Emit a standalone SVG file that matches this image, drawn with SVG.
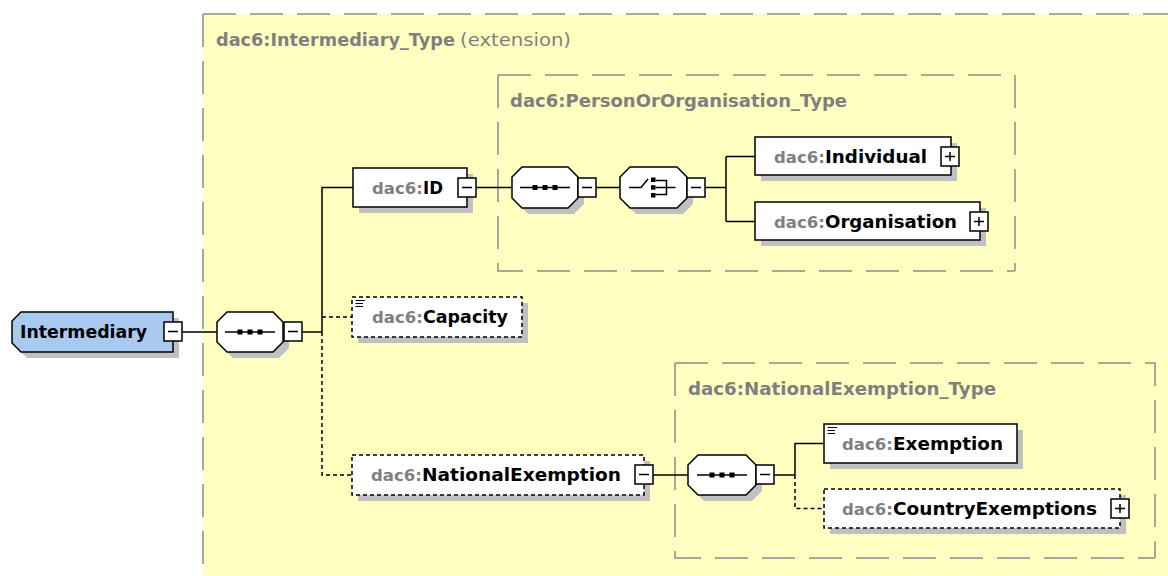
<svg xmlns="http://www.w3.org/2000/svg" xmlns:xlink="http://www.w3.org/1999/xlink" width="1168" height="576" viewBox="0 0 1168 576">
<style>
.ln{stroke:#000;stroke-width:1.5;fill:none}
.dl{stroke:#000;stroke-width:1.5;fill:none;stroke-dasharray:4 3}
.box{fill:#fff;stroke:#000;stroke-width:1.5}
.obox{fill:#fff;stroke:#000;stroke-width:1.5;stroke-dasharray:4 3}
.sh{fill:#c0c0c0}
.ctr{fill:none;stroke:#8c8c8c;stroke-width:1.5;stroke-dasharray:33 14}
.t{font-family:"DejaVu Sans",sans-serif;font-weight:bold;font-size:17.5px}
.p{fill:#808080;font-size:16.5px}
.n{fill:#000}
.tt{font-family:"DejaVu Sans",sans-serif;font-size:17.5px;fill:#7f7f7f}
.doc{stroke:#000;stroke-width:1.2}
</style>
<defs>
<g id="minus"><rect x="0" y="0" width="18" height="19" fill="#fff" stroke="#000" stroke-width="1.5"/><path d="M4 9.5H14" stroke="#000" stroke-width="1.5"/></g>
<g id="plus"><rect x="0" y="0" width="18" height="19" fill="#fff" stroke="#000" stroke-width="1.5"/><path d="M4 9.5H14M9 5V14" stroke="#000" stroke-width="1.5"/></g>
<g id="seqsym"><path d="M-25 0H25" stroke="#000" stroke-width="1.5"/><rect x="-12.5" y="-2.5" width="5" height="5"/><rect x="-2.5" y="-2.5" width="5" height="5"/><rect x="7.5" y="-2.5" width="5" height="5"/></g>
<g id="chsym"><path d="M-24.5 0H-12.5L-5.5 -8.5" fill="none" stroke="#000" stroke-width="1.5"/><rect x="-2.5" y="-10" width="4.5" height="4.5"/><rect x="-2.5" y="-2.25" width="4.5" height="4.5"/><rect x="-2.5" y="5.5" width="4.5" height="4.5"/><path d="M2 -7H13V7H2M2 0H22" fill="none" stroke="#000" stroke-width="1.5"/></g>
</defs>

<g id="containers">
<rect x="203" y="14" width="965" height="562" fill="#ffffc0"/>
<path class="ctr" d="M203 14H1168"/><path class="ctr" d="M203 14V576"/>
<text class="tt" x="216" y="46" font-weight="bold" textLength="239" lengthAdjust="spacingAndGlyphs">dac6:Intermediary_Type</text>
<text class="tt" x="460" y="46" textLength="111" lengthAdjust="spacingAndGlyphs">(extension)</text>
<path class="ctr" d="M498 75H1015V271"/><path class="ctr" d="M498 75V271H1015"/>
<text class="tt" x="510" y="107" font-weight="bold" textLength="337" lengthAdjust="spacingAndGlyphs">dac6:PersonOrOrganisation_Type</text>
<path class="ctr" d="M675 363H1155V558"/><path class="ctr" d="M675 363V558H1155"/>
<text class="tt" x="688" y="395" font-weight="bold" textLength="308" lengthAdjust="spacingAndGlyphs">dac6:NationalExemption_Type</text>
</g>

<g id="connectors">
<path class="ln" d="M182 332H217M302 332H322M322 332V187.5H353"/>
<path class="dl" d="M322 332V475H352M322 317H352"/>
<path class="ln" d="M476 187.5H512M596 187.5H620M705 187.5H726M726 156.5V221.5M726 156.5H755M726 221.5H755"/>
<path class="ln" d="M653 475H688M774 475H795M795 475V443.5H824"/>
<path class="dl" d="M795 475V508.5H824"/>
</g>

<g id="n_Intermediary">
<path class="sh" d="M27 318H179V358H27L18 349V327Z"/>
<path d="M21 312H173V352H21L12 343V321Z" fill="#a8caf0" stroke="#000" stroke-width="1.5"/>
<text class="t n" x="20" y="338" textLength="127" lengthAdjust="spacingAndGlyphs">Intermediary</text>
<use xlink:href="#minus" x="164" y="322"/>
</g>

<g id="n_seq1">
<path class="sh" d="M233 318H279L289 328V348L279 358H233L223 348V328Z"/>
<path class="box" d="M227 312H273L283 322V342L273 352H227L217 342V322Z"/>
<use xlink:href="#seqsym" x="250" y="332"/>
<use xlink:href="#minus" x="284" y="322"/>
</g>

<g id="n_ID">
<rect class="sh" x="359" y="174" width="114" height="39"/>
<rect class="box" x="353" y="168" width="114" height="39"/>
<text class="t p" x="372" y="194">dac6:</text>
<text class="t n" x="423" y="194" textLength="20" lengthAdjust="spacingAndGlyphs">ID</text>
<use xlink:href="#minus" x="458" y="178"/>
</g>

<g id="n_seq2">
<path class="sh" d="M528 173H574L584 183V204L574 214H528L518 204V183Z"/>
<path class="box" d="M522 167H568L578 177V198L568 208H522L512 198V177Z"/>
<use xlink:href="#seqsym" x="545" y="187.5"/>
<use xlink:href="#minus" x="578" y="178"/>
</g>

<g id="n_choice">
<path class="sh" d="M636 173H683L693 183V204L683 214H636L626 204V183Z"/>
<path class="box" d="M630 167H677L687 177V198L677 208H630L620 198V177Z"/>
<use xlink:href="#chsym" x="653.5" y="187.5"/>
<use xlink:href="#minus" x="687" y="178"/>
</g>

<g id="n_Individual">
<rect class="sh" x="761" y="143" width="196" height="38"/>
<rect class="box" x="755" y="137" width="196" height="38"/>
<text class="t p" x="774" y="162.5">dac6:</text>
<text class="t n" x="825" y="162.5" textLength="102" lengthAdjust="spacingAndGlyphs">Individual</text>
<use xlink:href="#plus" x="941" y="147"/>
</g>

<g id="n_Organisation">
<rect class="sh" x="761" y="208" width="225" height="38"/>
<rect class="box" x="755" y="202" width="225" height="38"/>
<text class="t p" x="774" y="227.5">dac6:</text>
<text class="t n" x="825" y="227.5" textLength="132" lengthAdjust="spacingAndGlyphs">Organisation</text>
<use xlink:href="#plus" x="970" y="212"/>
</g>

<g id="n_Capacity">
<rect class="sh" x="358" y="303" width="170" height="40"/>
<rect class="obox" x="352" y="297" width="170" height="40"/>
<path class="doc" d="M355.5 300.5H365M355.5 303.5H363M355.5 306.5H363"/>
<text class="t p" x="372" y="323">dac6:</text>
<text class="t n" x="423" y="323" textLength="85" lengthAdjust="spacingAndGlyphs">Capacity</text>
</g>

<g id="n_NationalExemption">
<rect class="sh" x="358" y="461" width="292" height="40"/>
<rect class="obox" x="352" y="455" width="292" height="40"/>
<text class="t p" x="371" y="481">dac6:</text>
<text class="t n" x="422" y="481" textLength="199" lengthAdjust="spacingAndGlyphs">NationalExemption</text>
<use xlink:href="#minus" x="635" y="465"/>
</g>

<g id="n_seq3">
<path class="sh" d="M704 461H752L762 471V491L752 501H704L694 491V471Z"/>
<path class="box" d="M698 455H746L756 465V485L746 495H698L688 485V465Z"/>
<use xlink:href="#seqsym" x="722" y="475"/>
<use xlink:href="#minus" x="756" y="465"/>
</g>

<g id="n_Exemption">
<rect class="sh" x="830" y="430" width="193" height="39"/>
<rect class="box" x="824" y="424" width="193" height="39"/>
<path class="doc" d="M827.5 427.5H837M827.5 430.5H835M827.5 433.5H835"/>
<text class="t p" x="842" y="450">dac6:</text>
<text class="t n" x="893" y="450" textLength="110" lengthAdjust="spacingAndGlyphs">Exemption</text>
</g>

<g id="n_CountryExemptions">
<rect class="sh" x="830" y="495" width="296" height="39"/>
<rect class="obox" x="824" y="489" width="296" height="39"/>
<text class="t p" x="842" y="515">dac6:</text>
<text class="t n" x="893" y="515" textLength="204" lengthAdjust="spacingAndGlyphs">CountryExemptions</text>
<use xlink:href="#plus" x="1111" y="499"/>
</g>
</svg>
